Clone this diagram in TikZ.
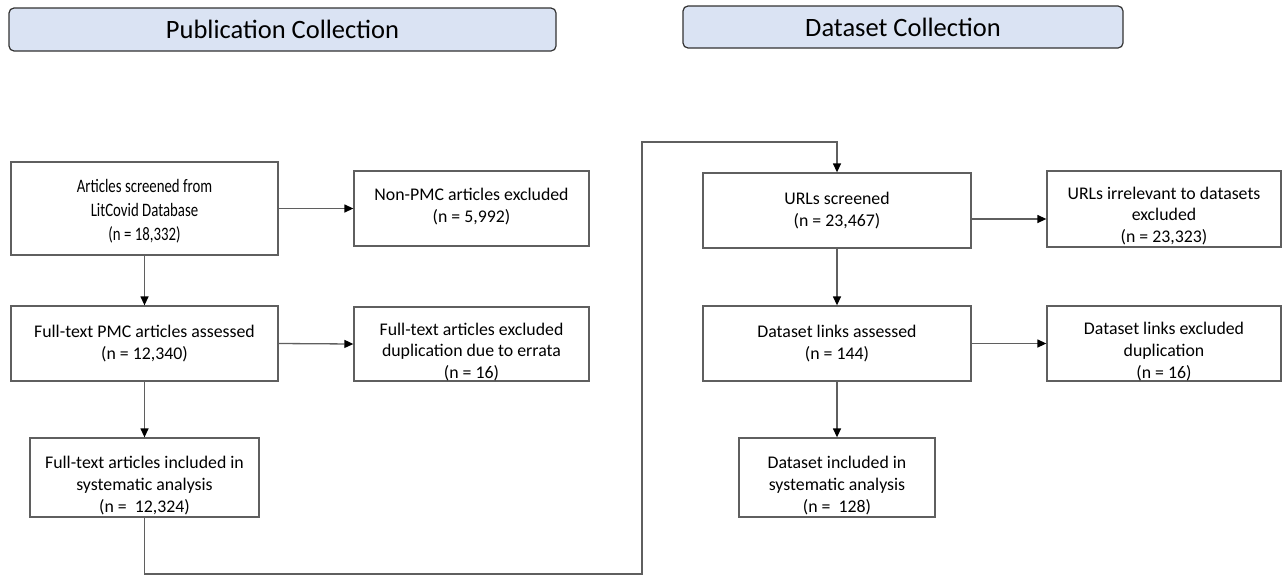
\documentclass[tikz,border=0pt]{standalone}
\usepackage{fontspec}
\setmainfont{Carlito}
\newfontfamily\narrowfont[FakeStretch=0.78]{Carlito}
\usetikzlibrary{arrows.meta}
\definecolor{linec}{RGB}{95,95,95}
\definecolor{hdrfill}{RGB}{218,227,243}
\definecolor{hdrline}{RGB}{50,50,50}
\tikzset{
  box/.style={draw=linec, line width=1.3pt, fill=white, inner sep=0pt},
  txt/.style={align=center, inner sep=0pt, font=\fontsize{17.8}{21.7}\selectfont},
  hdr/.style={draw=hdrline, line width=1.2pt, fill=hdrfill, rounded corners=5pt, inner sep=0pt,
    font=\fontsize{26.5}{30}\selectfont},
  conn/.style={draw=linec, line width=1.3pt, -{Triangle[length=9pt,width=8pt,color=black]}}
}
\begin{document}
\begin{tikzpicture}[x=1pt,y=-1pt]
\useasboundingbox (0,0) rectangle (1282,576);
% headers
\node[hdr, minimum width=547pt, minimum height=43pt] (h1) at (282.5,29.5) {Publication Collection};
\node[hdr, minimum width=440pt, minimum height=42pt] (h2) at (903,27) {Dataset Collection};
% boxes
\node[box, minimum width=267pt, minimum height=93pt] (A) at (144.5,208.5) {};
\node[box, minimum width=235pt, minimum height=75pt] (B) at (471.5,208.5) {};
\node[box, minimum width=267pt, minimum height=75pt] (C) at (144.5,343.5) {};
\node[box, minimum width=235pt, minimum height=74pt] (D) at (471.5,344) {};
\node[box, minimum width=229pt, minimum height=79pt] (E) at (144.5,477.5) {};
\node[box, minimum width=268pt, minimum height=75pt] (F) at (837,210.5) {};
\node[box, minimum width=234pt, minimum height=76pt] (G) at (1164,209) {};
\node[box, minimum width=268pt, minimum height=75pt] (I) at (837,343.5) {};
\node[box, minimum width=234pt, minimum height=75pt] (H) at (1164,343.5) {};
\node[box, minimum width=196pt, minimum height=79pt] (J) at (837,477.5) {};
% texts
\node[txt, font=\narrowfont\fontsize{19}{24}\selectfont] (At) at ([yshift=-3pt]A.center) {Articles screened from\\LitCovid Database\\(n = 18,332)};
\node[txt] (Bt) at ([yshift=2pt]B.center) {Non-PMC articles excluded\\(n = 5,992)};
\node[txt] (Ct) at (C.center) {Full-text PMC articles assessed\\(n = 12,340)};
\node[txt] (Dt) at ([yshift=-8pt]D.center) {Full-text articles excluded\\duplication due to errata\\(n = 16)};
\node[txt] (Et) at ([yshift=-8pt]E.center) {Full-text articles included in\\systematic analysis\\(n =\ \ 12,324)};
\node[txt] (Ft) at (F.center) {URLs screened\\(n = 23,467)};
\node[txt] (Gt) at ([yshift=-7pt]G.center) {URLs irrelevant to datasets\\excluded\\(n = 23,323)};
\node[txt] (It) at (I.center) {Dataset links assessed\\(n = 144)};
\node[txt] (Ht) at ([yshift=-8pt]H.center) {Dataset links excluded\\duplication\\(n = 16)};
\node[txt] (Jt) at ([yshift=-8pt]J.center) {Dataset included in\\systematic analysis\\(n =\ \ 128)};
% connector corner points
\coordinate (p1) at (144.5,574);
\coordinate (p2) at (642,574);
\coordinate (p3) at (642,142);
\coordinate (p4) at (837,142);
\coordinate (fg) at ([yshift=-8.5pt]F.east);
% connectors
\draw[conn] (A.east) -- (B.west);
\draw[conn] (A.south) -- (C.north);
\draw[conn] (C.east) -- (D.west);
\draw[conn] (C.south) -- (E.north);
\draw[conn] (E.south) -- (p1) -- (p2) -- (p3) -- (p4) -- (F.north);
\draw[conn] (fg) -- (fg -| G.west);
\draw[conn] (F.south) -- (I.north);
\draw[conn] (I.east) -- (H.west);
\draw[conn] (I.south) -- (J.north);
\end{tikzpicture}
\end{document}
